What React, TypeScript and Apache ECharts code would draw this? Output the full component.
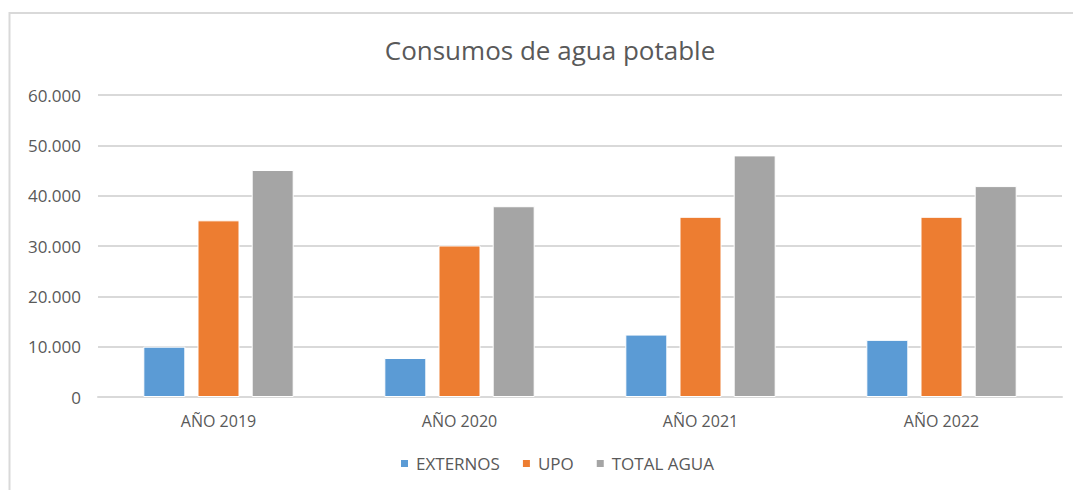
import React, { useEffect, useRef } from "react";
import * as echarts from "echarts";

const categories = ["AÑO 2019", "AÑO 2020", "AÑO 2021", "AÑO 2022"];
const externos = [10000, 7750, 12400, 11350];
const upo = [35100, 30100, 35800, 35800];
const totalAgua = [45100, 37900, 48000, 41900];
const yTicks = [0, 10000, 20000, 30000, 40000, 50000, 60000];

const FONT = "'Open Sans', 'Noto Sans', sans-serif";
const TEXT = "#595959";

export default function App() {
  const ref = useRef<HTMLDivElement>(null);
  useEffect(() => {
    document.body.style.margin = "0";
    const chart = echarts.init(ref.current!, null, { renderer: "svg" });
    const fmt = (v: number) => String(v).replace(/\B(?=(\d{3})+(?!\d))/g, ".");
    chart.setOption({
      animation: false,
      backgroundColor: "#ffffff",
      textStyle: { fontFamily: FONT },
      graphic: [
        {
          type: "rect",
          shape: { x: 9.5, y: 13, width: 1100, height: 500 },
          style: { fill: "none", stroke: "#D9D9D9", lineWidth: 2 },
          silent: true,
        },
      ],
      title: {
        text: "Consumos de agua potable",
        left: 545,
        textAlign: "center",
        top: 32,
        textStyle: { fontFamily: FONT, fontSize: 26, fontWeight: "normal", color: TEXT },
      },
      legend: {
        bottom: 13,
        left: 394,
        itemWidth: 9,
        itemHeight: 9,
        itemGap: 21,
        icon: "rect",
        textStyle: { fontFamily: FONT, fontSize: 17, color: TEXT, padding: [0, 0, 0, 2] },
        data: ["EXTERNOS", "UPO", "TOTAL AGUA"],
      },
      grid: { left: 98, right: 11, top: 95, bottom: 93, containLabel: false },
      xAxis: {
        type: "category",
        data: categories,
        axisLine: { lineStyle: { color: "#D9D9D9", width: 2 } },
        axisTick: { show: false },
        axisLabel: { color: TEXT, fontSize: 16, margin: 16, fontFamily: FONT },
      },
      yAxis: {
        type: "value",
        min: yTicks[0],
        max: yTicks[yTicks.length - 1],
        interval: 10000,
        axisLine: { show: false },
        axisTick: { show: false },
        axisLabel: { color: TEXT, fontSize: 17, margin: 17, fontFamily: FONT, formatter: fmt },
        splitLine: { lineStyle: { color: "#D9D9D9", width: 2 } },
      },
      series: [
        {
          name: "EXTERNOS",
          type: "bar",
          data: externos,
          barWidth: 42,
          barGap: "29%",
          itemStyle: { color: "#5B9BD5", borderColor: "#ffffff", borderWidth: 1 },
        },
        {
          name: "UPO",
          type: "bar",
          data: upo,
          barWidth: 42,
          barGap: "29%",
          itemStyle: { color: "#ED7D31", borderColor: "#ffffff", borderWidth: 1 },
        },
        {
          name: "TOTAL AGUA",
          type: "bar",
          data: totalAgua,
          barWidth: 42,
          barGap: "29%",
          itemStyle: { color: "#A5A5A5", borderColor: "#ffffff", borderWidth: 1 },
        },
      ],
    });
    return () => chart.dispose();
  }, []);
  return <div ref={ref} style={{ width: 1073, height: 490 }} />;
}
